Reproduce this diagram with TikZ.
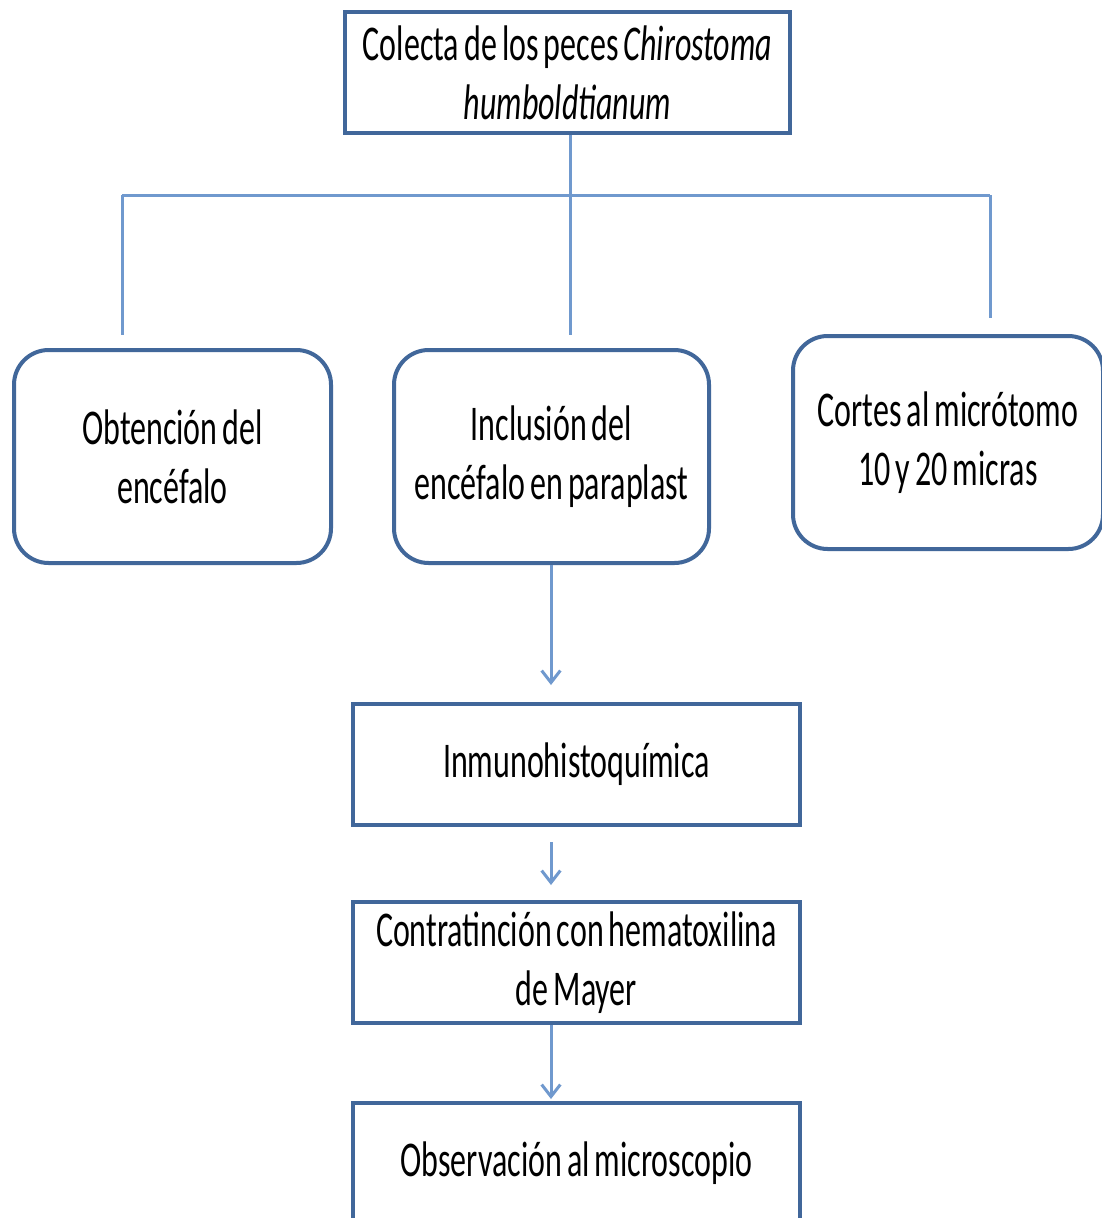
\documentclass[tikz,border=0pt]{standalone}
\usepackage{fontspec}
\usepackage{graphicx}
\setmainfont[WordSpace=0.7]{Carlito}
\usetikzlibrary{arrows.meta}
\definecolor{boxblue}{HTML}{41679A}
\definecolor{linkblue}{HTML}{7099CE}
\newcommand{\sq}[1]{\scalebox{0.64}[1]{#1}}
\tikzset{
  box/.style={draw=boxblue, line width=3pt, fill=white, inner sep=0pt, align=center,
    font=\fontsize{37.5}{44}\selectfont},
  rbox/.style={box, rounded corners=26pt},
  conn/.style={draw=linkblue, line width=2.25pt},
  arr/.style={conn, -{Straight Barb[length=9pt,width=14pt]}}
}
\begin{document}
\begin{tikzpicture}[x=0.75pt, y=-0.75pt]
\path[use as bounding box] (0,0) rectangle (1102,1218);
\clip (0,0) rectangle (1102,1218);
\fill[white] (0,0) rectangle (1102,1218);

\node[box, minimum width={445*0.75pt}, minimum height={121*0.75pt}] (top) at (567.5,72.5)
  {\sq{Colecta de los peces \textit{Chirostoma}}\\\sq{\textit{humboldtianum}}};

\node[rbox, minimum width={317*0.75pt}, minimum height={213*0.75pt}] (left) at (172.5,456.5)
  {\sq{Obtención del}\\\sq{encéfalo}};
\node[rbox, minimum width={315*0.75pt}, minimum height={213*0.75pt}] (mid) at (551.5,456.5)
  {\sq{Inclusión del}\\\sq{encéfalo en paraplast}};
\node[rbox, minimum width={310*0.75pt}, minimum height={213*0.75pt}] (right) at (948,442.5)
  {\sq{Cortes al micrótomo}\\\sq{10 y 20 micras}};

\node[box, minimum width={447*0.75pt}, minimum height={121*0.75pt}] (inmuno) at (576.5,764.5)
  {\sq{Inmunohistoquímica}};
\node[box, minimum width={447*0.75pt}, minimum height={121*0.75pt}] (contra) at (576.5,962.5)
  {\sq{Contratinción con hematoxilina}\\\sq{de Mayer}};
\node[box, minimum width={447*0.75pt}, minimum height={121*0.75pt}] (obs) at (576.5,1163.5)
  {\sq{Observación al microscopio}};

\coordinate (m1) at (570,335);
\coordinate (hl) at (122,195);
\coordinate (hr) at (990,195);
\coordinate (l1) at (122,335);
\coordinate (r1) at (990,318);
\coordinate (a1) at (551,685);
\coordinate (a2s) at (551,842);
\coordinate (a2e) at (551,885);
\coordinate (a3e) at (551,1099);

\draw[conn] (top.south -| m1) -- (m1);
\draw[conn] (hl) -- (hr);
\draw[conn] (hl) -- (l1);
\draw[conn] (hr) -- (r1);

\draw[arr] (mid.south -| a1) -- (a1);
\draw[arr] (a2s) -- (a2e);
\draw[arr] (contra.south -| a3e) -- (a3e);
\end{tikzpicture}
\end{document}
